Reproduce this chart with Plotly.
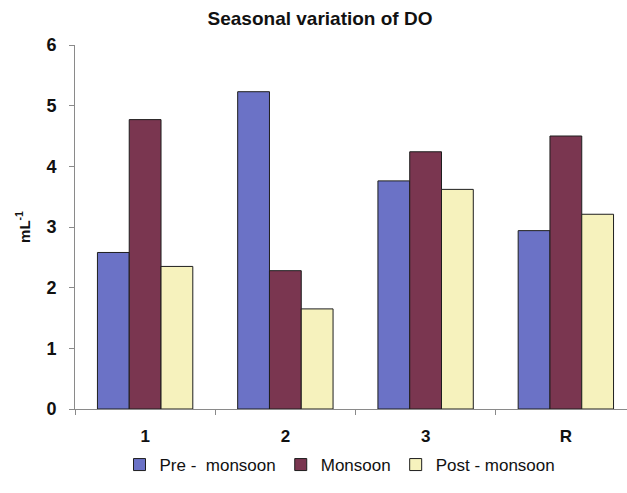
import plotly.graph_objects as go

# Sampling stations and dissolved oxygen (mL/L) per season
stations = ["1", "2", "3", "R"]
pre_monsoon = [2.58, 5.23, 3.76, 2.94]
monsoon = [4.77, 2.28, 4.24, 4.50]
post_monsoon = [2.35, 1.65, 3.62, 3.21]

series_names = ["Pre -  monsoon", "Monsoon", "Post - monsoon"]
series_colors = ["#6b72c6", "#7a3650", "#f6f2bd"]

FONT = "Arial, 'Liberation Sans', sans-serif"

fig = go.Figure()
for name, vals, col in zip(series_names, [pre_monsoon, monsoon, post_monsoon], series_colors):
    fig.add_trace(go.Bar(
        x=stations, y=vals, name=name,
        marker=dict(color=col, line=dict(color="#1e1e1e", width=1)),
    ))

fig.update_layout(
    width=627, height=493,
    margin=dict(l=75, r=0, t=45, b=84),
    paper_bgcolor="white", plot_bgcolor="white",
    barmode="group", bargap=0.32, bargroupgap=0,
    font=dict(family=FONT, color="#111"),
    title=dict(
        text="<b>Seasonal variation of DO</b>",
        x=320 / 627, xanchor="center", xref="container",
        y=1 - 18 / 493, yanchor="middle", yref="container",
        font=dict(size=19, family=FONT, color="#111"),
    ),
    showlegend=True,
    legend=dict(
        orientation="h", xref="container", yref="container",
        x=340 / 627, xanchor="center", y=1 - 465 / 493, yanchor="middle",
        font=dict(size=17, family=FONT, color="#111"),
        itemwidth=30, tracegroupgap=0, traceorder="normal",
    ),
)

fig.update_xaxes(
    type="category", range=[-0.5, 3.436],
    showline=True, linecolor="#8a8a8a", linewidth=1,
    ticks="outside", tickson="boundaries", ticklen=5, tickcolor="#8a8a8a",
    showgrid=False, zeroline=False, ticklabelstandoff=12,
    tickfont=dict(size=17, family=FONT, color="#111", weight="bold"),
)
fig.update_yaxes(
    range=[0, 6], dtick=1,
    showline=True, linecolor="#8a8a8a", linewidth=1,
    ticks="outside", ticklen=5, tickcolor="#8a8a8a",
    showgrid=False, zeroline=False, ticklabelstandoff=9,
    tickfont=dict(size=18, family=FONT, color="#111", weight="bold"),
    title=dict(text="<b>mL<sup>-1</sup></b>", font=dict(size=15, family=FONT, color="#111"), standoff=12),
)

fig.write_html("out.html")
